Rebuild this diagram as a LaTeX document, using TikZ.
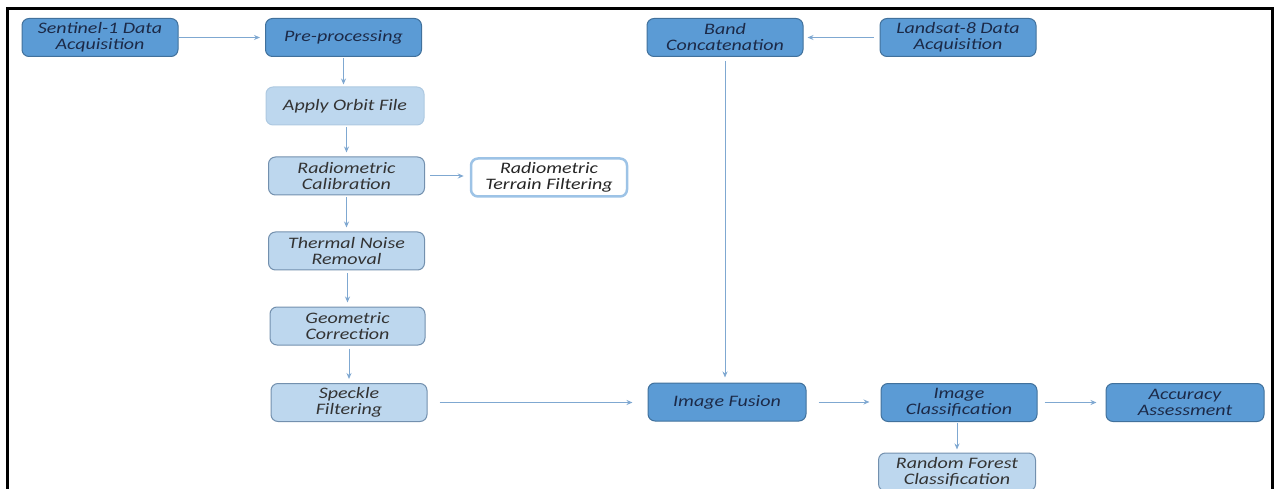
\documentclass[tikz,border=0pt]{standalone}
\usepackage{fontspec}
\setmainfont{Carlito}
\newfontfamily\boxfont[FakeStretch=1.25]{Carlito}
\usepackage{xcolor}
\usepackage{tikz}
\usetikzlibrary{arrows.meta, positioning, calc}
\definecolor{darkfill}{HTML}{5B9BD5}
\definecolor{darkline}{HTML}{41719C}
\definecolor{lightfill}{HTML}{BDD7EE}
\definecolor{lightline}{HTML}{7390AE}
\definecolor{paleline}{HTML}{9DC3E6}
\definecolor{flowline}{HTML}{7FA8D1}
\definecolor{navytext}{HTML}{1C2A48}
\tikzset{
    mainstep/.style={
        rectangle,
        draw=darkline,
        line width=1pt,
        rounded corners=7pt,
        minimum width=156pt,
        minimum height=38pt,
        fill=darkfill,
        text=navytext,
        align=center,
        font=\boxfont\fontsize{16}{16}\selectfont\itshape
    },
    substep/.style={
        mainstep,
        draw=lightline,
        fill=lightfill,
        text=black!80
    },
    sidestep/.style={
        mainstep,
        draw=paleline,
        line width=2.5pt,
        fill=white,
        text=black!85
    },
    flow/.style={
        draw=flowline,
        line width=1pt,
        -{Stealth[length=6pt,width=5pt]}
    },
    frameline/.style={
        draw=black,
        line width=3pt
    }
}
\begin{document}
\begin{tikzpicture}[x=1pt, y=-1pt]
\useasboundingbox (0,0) rectangle (1275,489);

% Outer frame (open at the bottom)
\draw[frameline] (7,500) -- (7,9) -- (1272,9) -- (1272,500);

% Sentinel-1 branch
\node[mainstep] (sent) at (100,37.5) {Sentinel-1 Data\\Acquisition};
\node[mainstep] (pre) at (343.5,37.5) {Pre-processing};
\node[substep, draw=lightfill!80!lightline, minimum width=158pt] (orbit) at (345,106) {Apply Orbit File};
\node[substep] (radcal) at (346.5,176) {Radiometric\\Calibration};
\node[sidestep] (rtf) at (549,177.5) {Radiometric\\Terrain Filtering};
\node[substep] (thermal) at (346.5,251) {Thermal Noise\\Removal};
\node[substep, minimum width=155pt] (geo) at (347.5,326) {Geometric\\Correction};
\node[substep] (speckle) at (349,402.5) {Speckle\\Filtering};

% Landsat-8 branch
\node[mainstep] (landsat) at (958,37.5) {Landsat-8 Data\\Acquisition};
\node[mainstep] (band) at (725,37.5) {Band\\Concatenation};

% Fusion and classification
\node[mainstep, minimum width=158pt] (fusion) at (727,402) {Image Fusion};
\node[mainstep] (class) at (959,402.5) {Image\\Classification};
\node[mainstep, minimum width=158pt] (acc) at (1185,402.5) {Accuracy\\Assessment};
\node[substep, minimum width=157pt] (rf) at (957,472) {Random Forest\\Classification};

\draw[flow, shorten >=5pt] (sent) -- (pre);
\draw[flow, shorten <=1pt, shorten >=2pt] (pre.south) -- (pre.south |- orbit.north);
\draw[flow, shorten <=2pt, shorten >=4pt] (orbit.south -| radcal) -- (radcal.north);
\draw[flow, shorten <=5pt, shorten >=6pt] (radcal.east) -- (radcal.east -| rtf.west);
\draw[flow, shorten <=2pt, shorten >=4pt] (radcal.south) -- (thermal.north);
\draw[flow, shorten <=3pt, shorten >=4pt] (thermal.south -| geo) -- (geo.north);
\draw[flow, shorten <=3pt, shorten >=4pt] (geo.south -| speckle) -- (speckle.north);
\draw[flow, shorten <=12pt, shorten >=15pt] (speckle.east) -- (speckle.east -| fusion.west);
\draw[flow, shorten <=6pt, shorten >=4pt] (landsat) -- (band);
\draw[flow, shorten <=4pt, shorten >=5pt] (band.south) -- (band.south |- fusion.north);
\draw[flow, shorten <=12pt, shorten >=11pt] (fusion.east) -- (fusion.east -| class.west);
\draw[flow, shorten <=7pt, shorten >=9pt] (class) -- (acc);
\draw[flow, shorten <=1pt, shorten >=3pt] (class.south -| rf) -- (rf.north);

\end{tikzpicture}
\end{document}
